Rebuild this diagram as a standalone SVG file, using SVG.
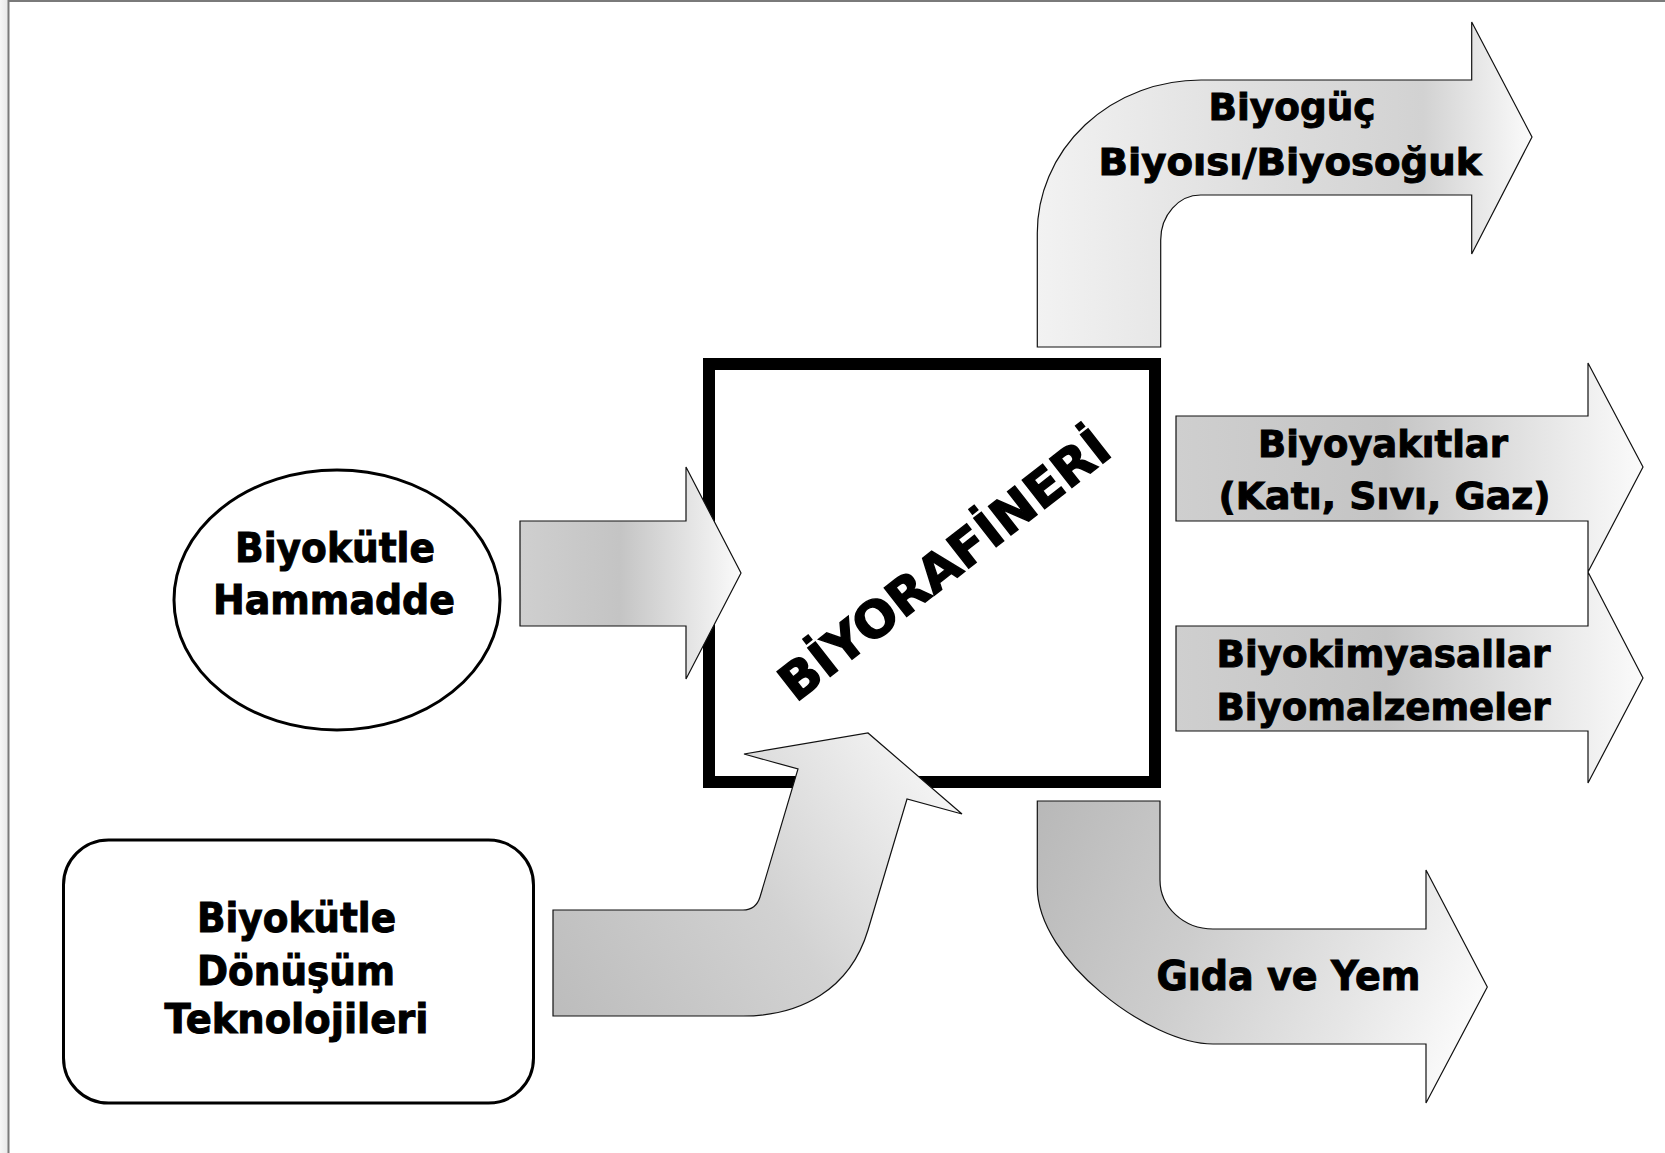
<svg xmlns="http://www.w3.org/2000/svg" width="1665" height="1153" viewBox="0 0 1665 1153">
<defs>
<linearGradient id="gH" x1="0" y1="0" x2="1" y2="0">
<stop offset="0" stop-color="#cfcfcf"/>
<stop offset="0.45" stop-color="#c4c4c4"/>
<stop offset="1" stop-color="#fbfbfb"/>
</linearGradient>
<linearGradient id="gTop" x1="0" y1="0" x2="1" y2="0">
<stop offset="0" stop-color="#f2f2f2"/>
<stop offset="0.5" stop-color="#dcdcdc"/>
<stop offset="0.78" stop-color="#d2d2d2"/>
<stop offset="1" stop-color="#fbfbfb"/>
</linearGradient>
<linearGradient id="gBot" gradientUnits="userSpaceOnUse" x1="1037" y1="801" x2="1487" y2="1000">
<stop offset="0" stop-color="#b8b8b8"/>
<stop offset="0.4" stop-color="#cdcdcd"/>
<stop offset="0.75" stop-color="#e6e6e6"/>
<stop offset="1" stop-color="#fbfbfb"/>
</linearGradient>
<linearGradient id="gBL" gradientUnits="userSpaceOnUse" x1="553" y1="1016" x2="960" y2="745">
<stop offset="0" stop-color="#bcbcbc"/>
<stop offset="0.5" stop-color="#d2d2d2"/>
<stop offset="1" stop-color="#fafafa"/>
</linearGradient>
<linearGradient id="gFrame" x1="0" y1="0" x2="1" y2="0">
<stop offset="0" stop-color="#f6f6f6"/>
<stop offset="1" stop-color="#e8e8e8"/>
</linearGradient>
</defs>
<style>
.lbl{font-family:"DejaVu Sans","Liberation Sans",sans-serif;font-weight:bold;fill:#000;stroke:#000;stroke-width:1;text-anchor:middle;}
.arrow{stroke:#111;stroke-width:1.2;stroke-linejoin:miter;}
.outline{fill:#fff;stroke:#000;stroke-width:3;}
</style>
<rect x="0" y="0" width="1665" height="1153" fill="#fff"/>
<g id="frame">
<rect x="0" y="0" width="8" height="1153" fill="url(#gFrame)"/>
<line x1="8.5" y1="0" x2="8.5" y2="1153" stroke="#7a7a7a" stroke-width="2"/>
<line x1="8" y1="1" x2="1665" y2="1" stroke="#7a7a7a" stroke-width="2"/>
</g>
<g id="node-hammadde">
<ellipse class="outline" cx="337" cy="600" rx="163" ry="130"/>
<text class="lbl" font-size="40" x="335" y="562" textLength="200" lengthAdjust="spacingAndGlyphs">Biyokütle</text>
<text class="lbl" font-size="40" x="334" y="614" textLength="242" lengthAdjust="spacingAndGlyphs">Hammadde</text>
</g>
<g id="node-teknolojiler">
<rect class="outline" x="63.5" y="840" width="470" height="263" rx="45" ry="45"/>
<text class="lbl" font-size="40" x="296.5" y="932" textLength="199" lengthAdjust="spacingAndGlyphs">Biyokütle</text>
<text class="lbl" font-size="40" x="296" y="985" textLength="198" lengthAdjust="spacingAndGlyphs">Dönüşüm</text>
<text class="lbl" font-size="40" x="296.5" y="1033" textLength="264" lengthAdjust="spacingAndGlyphs">Teknolojileri</text>
</g>
<g id="node-biyorafineri">
<rect x="709" y="364" width="446" height="418" fill="#fff" stroke="#000" stroke-width="12"/>
<text class="lbl" font-size="50" x="955" y="579" textLength="404" lengthAdjust="spacingAndGlyphs" transform="rotate(-38 955 579)" style="stroke-width:1.4">BİYORAFİNERİ</text>
</g>
<g id="connectors">
<path id="arrow-in-hammadde" class="arrow" fill="url(#gH)" d="M520,521 L686,521 L686,467 L741,573 L686,679 L686,626 L520,626 Z"/>
<path id="arrow-in-teknoloji" class="arrow" fill="url(#gBL)" d="M553,910 L743,910 Q756,910 760,897 L798,769 L744,754 L868,733 L962,814 L907,799 L868,930 C850,990 800,1016 743,1016 L553,1016 Z"/>
</g>
<g id="node-biyoguc">
<path class="arrow" fill="url(#gTop)" d="M1037.3,347 L1037.3,233 A163.7,153 0 0 1 1201,80 L1471.7,80 L1471.7,22 L1532,137 L1471.7,254 L1471.7,195 L1201,195 A40,45 0 0 0 1160.7,240 L1160.7,347 Z"/>
<text class="lbl" font-size="38" x="1292" y="120" textLength="167" lengthAdjust="spacingAndGlyphs">Biyogüç</text>
<text class="lbl" font-size="38" x="1290" y="175" textLength="383" lengthAdjust="spacingAndGlyphs">Biyoısı/Biyosoğuk</text>
</g>
<g id="node-biyoyakitlar">
<path class="arrow" fill="url(#gH)" d="M1176,416 L1588,416 L1588,363 L1643,467 L1588,572 L1588,521 L1176,521 Z"/>
<text class="lbl" font-size="38" x="1383" y="457" textLength="250" lengthAdjust="spacingAndGlyphs">Biyoyakıtlar</text>
<text class="lbl" font-size="38" x="1384.5" y="508.5" textLength="332" lengthAdjust="spacingAndGlyphs">(Katı, Sıvı, Gaz)</text>
</g>
<g id="node-biyokimyasallar">
<path class="arrow" fill="url(#gH)" d="M1176,626 L1588,626 L1588,572 L1643,678 L1588,783 L1588,731 L1176,731 Z"/>
<text class="lbl" font-size="38" x="1383.5" y="667" textLength="334" lengthAdjust="spacingAndGlyphs">Biyokimyasallar</text>
<text class="lbl" font-size="38" x="1383.5" y="720" textLength="334" lengthAdjust="spacingAndGlyphs">Biyomalzemeler</text>
</g>
<g id="node-gida">
<path class="arrow" fill="url(#gBot)" d="M1037.3,801 L1160,801 L1160,880 A53,49 0 0 0 1213,929 L1426,929 L1426,870 L1487.3,987 L1426,1103 L1426,1044 L1213,1044 C1150,1044 1037.3,960 1037.3,887 Z"/>
<text class="lbl" font-size="40" x="1288.5" y="990" textLength="264" lengthAdjust="spacingAndGlyphs">Gıda ve Yem</text>
</g>
</svg>
